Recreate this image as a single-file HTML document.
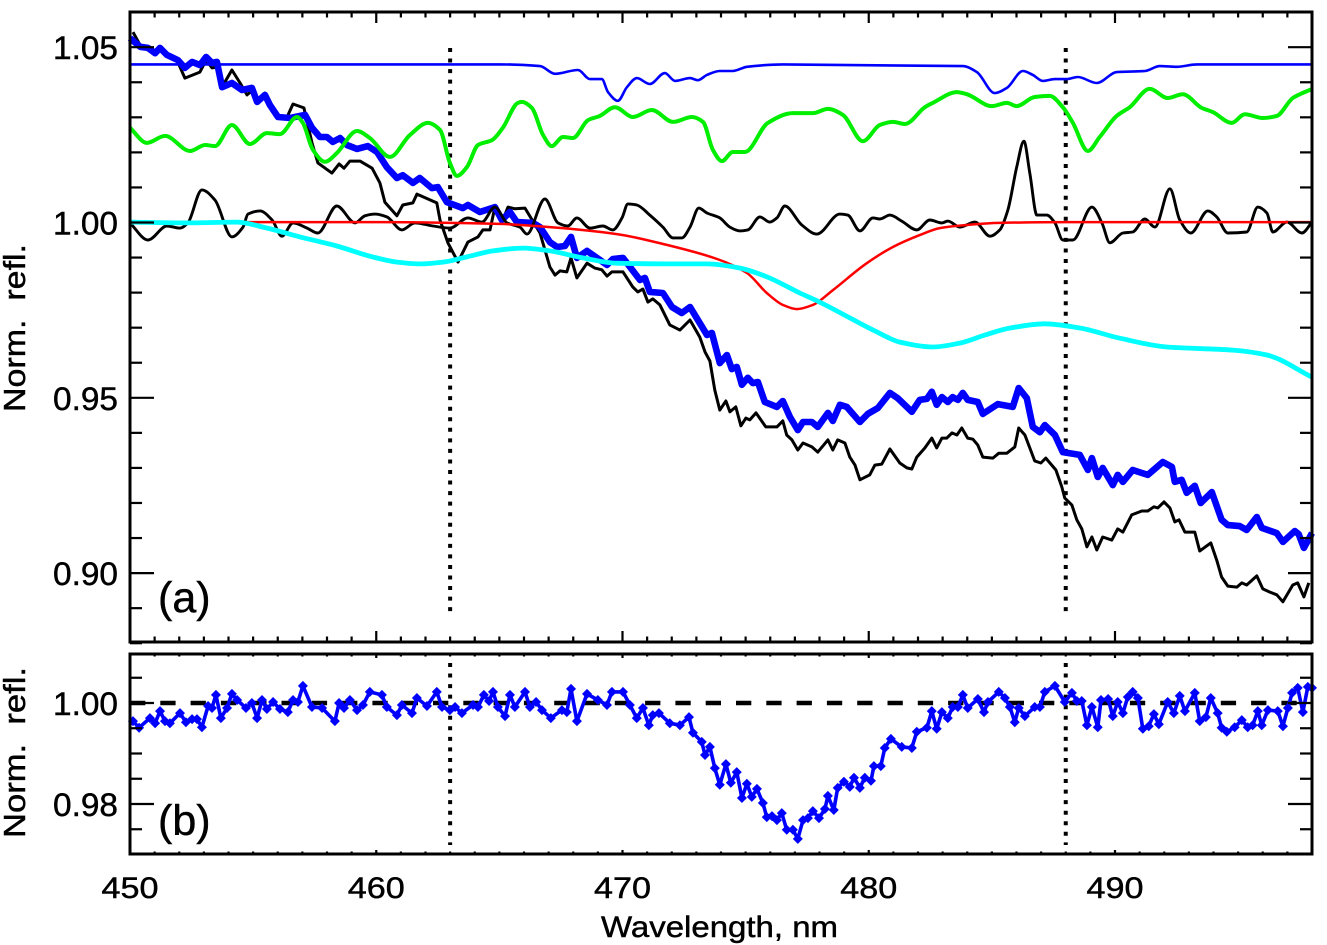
<!DOCTYPE html>
<html lang="en">
<head>
<meta charset="utf-8">
<title>Normalized reflectance spectra</title>
<style>
html,body{margin:0;padding:0;background:#fff;width:1327px;height:945px;overflow:hidden}
svg{display:block}
text{font-family:"Liberation Sans",sans-serif;fill:#000;stroke:#000;stroke-width:0.45px}
</style>
</head>
<body>
<svg id="chart" width="1327" height="945" viewBox="0 0 1327 945" xmlns="http://www.w3.org/2000/svg">
  <rect x="0" y="0" width="1327" height="945" fill="#fff"/>
  <g id="top-marks"></g>
  <g id="bottom-marks"></g>
  <g id="ticks"></g>
  <rect x="130" y="12" width="1182" height="630" fill="none" stroke="#000" stroke-width="3"/>
  <rect x="130" y="654" width="1182" height="200" fill="none" stroke="#000" stroke-width="3"/>
  <g id="labels"></g>
  <text x="158" y="612" font-size="43">(a)</text>
  <text x="158" y="835" font-size="43">(b)</text>
  <text x="601" y="937" font-size="30" textLength="237" lengthAdjust="spacingAndGlyphs">Wavelength, nm</text>
  <text transform="translate(25,412) rotate(-90)" x="0" y="0" font-size="31" textLength="168" lengthAdjust="spacingAndGlyphs" xml:space="preserve">Norm.  refl.</text>
  <text transform="translate(25,838) rotate(-90)" x="0" y="0" font-size="31" textLength="171" lengthAdjust="spacingAndGlyphs" xml:space="preserve">Norm.  refl.</text>
</svg>
<script>
// Feature wavelengths (nm)
const markerWavelengths = [463, 488];

// Tick values and labels
const xMajorTicks = [450, 460, 470, 480, 490];
const xTickLabels = ['450', '460', '470', '480', '490'];
const topMajorTicks = [0.90, 0.95, 1.00, 1.05];
const topTickLabels = ['0.90', '0.95', '1.00', '1.05'];
const bottomMajorTicks = [0.98, 1.00];
const bottomTickLabels = ['0.98', '1.00'];

// Upper black spectrum (with-feature reference)
const blackSpecWl = [450.12,450.41,450.93,451.22,451.91,452.23,452.84,453.09,453.33,453.53,453.78,454.14,454.47,454.75,454.99,455.20,455.48,455.97,456.38,456.62,457.06,457.39,457.63,458.20,458.49,458.69,458.93,459.34,459.83,460.15,460.35,460.84,461.08,461.49,461.65,462.46,462.59,462.91,463.32,463.72,464.13,464.33,464.62,464.82,465.14,465.35,465.63,466.04,466.65,467.05,467.26,467.46,467.74,467.91,468.15,468.56,468.88,469.16,469.37,469.57,470.02,470.42,470.62,470.83,471.03,471.23,471.52,471.92,472.33,472.74,473.14,473.35,473.55,473.75,473.95,474.20,474.36,474.60,474.81,475.01,475.17,475.42,475.82,476.27,476.51,476.67,476.88,477.12,477.33,477.69,477.93,478.34,478.54,478.74,479.03,479.23,479.44,479.64,480.04,480.25,480.53,480.86,481.26,481.55,481.75,481.95,482.28,482.56,482.76,482.97,483.17,483.38,483.58,483.78,484.02,484.23,484.43,484.63,485.04,485.28,485.61,485.93,486.09,486.34,486.74,486.99,487.19,487.60,487.84,487.96,488.25,488.45,488.65,488.86,489.06,489.26,489.50,489.87,490.11,490.32,490.68,491.09,491.33,491.58,491.74,491.99,492.23,492.43,492.60,492.84,493.24,493.44,493.89,494.13,494.33,494.58,494.95,495.15,495.35,495.76,496.00,496.28,496.57,496.82,497.22,497.42,497.67,497.87];
const blackSpecVal = [1.0543,1.0506,1.0483,1.0492,1.0463,1.0412,1.0429,1.0463,1.0441,1.0443,1.0392,1.0435,1.0398,1.0364,1.0378,1.0341,1.0369,1.0301,1.0301,1.0338,1.0327,1.0227,1.0170,1.0141,1.0167,1.0155,1.0175,1.0175,1.0155,1.0113,1.0058,1.0019,1.0050,1.0056,1.0081,1.0056,1.0007,0.9942,0.9887,0.9944,0.9959,0.9979,0.9979,1.0044,1.0007,1.0044,1.0039,1.0041,0.9970,0.9873,0.9850,0.9862,0.9859,0.9899,0.9842,0.9884,0.9870,0.9865,0.9847,0.9859,0.9859,0.9816,0.9802,0.9810,0.9773,0.9782,0.9765,0.9708,0.9693,0.9722,0.9673,0.9631,0.9605,0.9522,0.9465,0.9491,0.9460,0.9474,0.9420,0.9442,0.9437,0.9457,0.9417,0.9417,0.9434,0.9394,0.9380,0.9351,0.9371,0.9360,0.9345,0.9380,0.9351,0.9380,0.9371,0.9331,0.9308,0.9266,0.9280,0.9308,0.9311,0.9354,0.9314,0.9300,0.9297,0.9331,0.9357,0.9385,0.9357,0.9385,0.9385,0.9400,0.9394,0.9414,0.9385,0.9382,0.9365,0.9331,0.9328,0.9342,0.9342,0.9360,0.9414,0.9394,0.9320,0.9314,0.9328,0.9294,0.9246,0.9214,0.9194,0.9152,0.9126,0.9075,0.9103,0.9066,0.9103,0.9094,0.9126,0.9117,0.9166,0.9177,0.9177,0.9189,0.9186,0.9203,0.9186,0.9146,0.9152,0.9117,0.9117,0.9063,0.9086,0.9037,0.8989,0.8963,0.8960,0.8972,0.8966,0.8992,0.8955,0.8946,0.8938,0.8918,0.8966,0.8972,0.8932,0.8972];

// Thick blue spectrum
const blueSpecWl = [450.00,450.41,450.73,451.02,451.22,451.50,451.95,452.23,452.52,452.84,453.09,453.33,453.53,453.74,454.14,454.55,454.95,455.16,455.48,455.68,456.01,456.50,457.11,457.39,457.71,458.00,458.24,458.53,458.81,459.22,459.66,460.03,460.43,460.84,461.08,461.49,461.77,462.26,462.50,462.87,463.52,463.72,464.21,464.82,465.10,465.43,465.71,466.36,466.65,467.05,467.34,467.66,467.91,468.15,468.56,469.37,469.61,470.02,470.71,470.91,471.11,471.64,472.01,472.41,472.74,473.14,473.43,473.63,473.95,474.24,474.44,474.64,474.85,475.09,475.29,475.50,475.78,476.27,476.51,476.80,477.12,477.33,477.69,477.93,478.34,478.54,478.83,479.11,479.64,479.96,480.37,480.86,481.18,481.75,482.07,482.36,482.56,482.76,482.97,483.21,483.41,483.62,483.82,484.02,484.43,484.63,485.24,485.85,486.09,486.42,486.66,486.95,487.15,487.56,487.88,488.57,488.90,489.06,489.30,489.50,489.91,490.11,490.32,490.72,491.33,491.94,492.31,492.43,492.71,492.91,493.24,493.48,493.93,494.33,494.58,495.07,495.35,495.76,495.96,496.57,496.82,497.30,497.46,497.67,498.00];
const blueSpecVal = [1.0526,1.0501,1.0498,1.0483,1.0498,1.0478,1.0463,1.0441,1.0458,1.0449,1.0472,1.0455,1.0458,1.0386,1.0398,1.0378,1.0384,1.0344,1.0364,1.0335,1.0301,1.0298,1.0307,1.0270,1.0244,1.0244,1.0230,1.0241,1.0221,1.0210,1.0218,1.0201,1.0158,1.0127,1.0135,1.0113,1.0127,1.0098,1.0101,1.0058,1.0041,1.0050,1.0030,1.0044,1.0007,1.0030,1.0001,0.9999,0.9987,0.9944,0.9930,0.9933,0.9959,0.9899,0.9919,0.9879,0.9896,0.9899,0.9836,0.9842,0.9802,0.9799,0.9759,0.9742,0.9759,0.9713,0.9679,0.9685,0.9599,0.9622,0.9582,0.9588,0.9537,0.9557,0.9542,0.9545,0.9488,0.9474,0.9491,0.9445,0.9408,0.9431,0.9431,0.9417,0.9457,0.9434,0.9480,0.9474,0.9431,0.9454,0.9471,0.9514,0.9499,0.9460,0.9494,0.9497,0.9517,0.9480,0.9502,0.9488,0.9502,0.9494,0.9514,0.9494,0.9488,0.9454,0.9482,0.9474,0.9528,0.9499,0.9417,0.9402,0.9422,0.9394,0.9345,0.9337,0.9294,0.9328,0.9274,0.9300,0.9251,0.9280,0.9260,0.9294,0.9280,0.9317,0.9303,0.9260,0.9266,0.9229,0.9249,0.9200,0.9231,0.9152,0.9137,0.9134,0.9123,0.9160,0.9129,0.9114,0.9089,0.9120,0.9111,0.9072,0.9114];

// Thin blue line (top)
const thinBlueWl = [450,465.02,466.65,467.26,468.19,468.68,469.16,469.41,469.81,470.18,470.58,471.11,471.72,472.13,472.74,473.06,473.43,473.95,474.48,475.05,476.51,483.82,484.39,485.12,485.61,486.26,486.66,487.07,487.56,488.04,488.49,489.26,490.07,491.21,491.82,492.51,493.32,498];
const thinBlueVal = [1.0451,1.0451,1.0446,1.0424,1.0435,1.0409,1.0409,1.0372,1.0347,1.0386,1.0412,1.0395,1.0426,1.0404,1.0412,1.0406,1.0421,1.0432,1.0432,1.0444,1.0451,1.0446,1.0429,1.0369,1.0384,1.0432,1.0421,1.0404,1.0409,1.0409,1.0415,1.0398,1.0429,1.0432,1.0446,1.0444,1.0451,1.0451];

// Green line
const greenWl = [450.00,450.69,451.42,452.44,453.05,453.45,454.14,454.87,455.56,456.09,456.78,457.02,457.43,457.92,458.40,459.22,459.74,460.56,461.37,462.10,462.59,462.99,463.28,463.68,464.13,464.70,465.14,465.75,465.92,466.32,466.77,467.13,467.58,467.99,468.60,469.08,469.69,470.42,471.19,472.05,472.82,473.27,473.67,474.04,474.48,474.97,475.90,476.92,477.73,478.34,478.95,479.76,480.45,480.98,481.47,482.28,482.60,483.58,483.98,485.00,485.61,486.01,486.74,487.35,487.88,488.29,488.90,489.38,490.07,490.60,491.41,492.14,492.75,493.52,493.97,494.74,495.27,496.00,496.57,497.22,498.00];
const greenVal = [1.0270,1.0227,1.0247,1.0204,1.0221,1.0218,1.0278,1.0224,1.0255,1.0252,1.0301,1.0284,1.0207,1.0173,1.0198,1.0261,1.0241,1.0187,1.0250,1.0284,1.0264,1.0170,1.0133,1.0158,1.0221,1.0235,1.0270,1.0341,1.0344,1.0327,1.0250,1.0218,1.0244,1.0241,1.0292,1.0304,1.0329,1.0301,1.0321,1.0287,1.0301,1.0287,1.0207,1.0175,1.0201,1.0201,1.0284,1.0312,1.0312,1.0324,1.0307,1.0232,1.0278,1.0287,1.0281,1.0329,1.0341,1.0372,1.0366,1.0332,1.0341,1.0332,1.0358,1.0361,1.0329,1.0284,1.0204,1.0244,1.0304,1.0329,1.0381,1.0355,1.0366,1.0327,1.0315,1.0284,1.0309,1.0298,1.0304,1.0355,1.0381];

// Black line around unity
const blackFlatWl = [450.00,450.73,451.50,452.03,452.35,452.92,453.45,454.14,454.59,454.79,455.28,455.77,456.17,456.62,457.19,457.63,458.40,459.14,459.54,459.95,460.43,461.04,461.57,462.30,462.99,463.72,464.29,464.82,465.31,465.83,466.12,466.85,467.38,467.78,468.15,468.68,469.20,469.61,469.98,470.22,470.58,471.11,471.64,472.05,472.41,472.74,473.10,473.43,473.95,474.36,474.77,475.09,475.58,475.98,476.27,476.59,477.28,477.89,478.83,479.15,479.64,480.17,480.45,480.86,481.34,481.95,482.48,482.97,483.21,483.70,484.31,484.92,485.32,485.65,486.01,486.30,486.54,486.83,487.23,487.56,487.88,488.29,489.06,489.47,489.79,490.32,490.72,491.21,491.62,492.23,492.63,493.08,493.77,494.13,494.58,495.35,495.80,496.17,496.41,496.98,497.59,498.00];
const blackFlatVal = [0.9999,0.9950,0.9990,0.9984,0.9999,1.0093,1.0064,0.9959,0.9987,1.0024,1.0033,1.0007,0.9961,0.9999,0.9984,0.9970,1.0047,0.9999,1.0019,1.0024,1.0016,0.9979,0.9999,0.9990,0.9984,1.0013,1.0001,1.0044,0.9999,0.9987,0.9967,1.0067,0.9999,0.9990,1.0013,0.9984,0.9990,0.9979,1.0013,1.0053,1.0050,1.0021,0.9987,0.9956,0.9956,0.9987,1.0041,1.0027,1.0013,0.9987,0.9976,0.9979,1.0016,1.0001,1.0013,1.0047,0.9993,0.9967,1.0024,1.0021,0.9976,1.0013,1.0010,1.0021,1.0004,0.9979,1.0007,0.9999,1.0004,0.9987,1.0001,0.9961,0.9979,1.0036,1.0158,1.0232,1.0141,1.0021,1.0021,0.9999,0.9950,0.9950,1.0044,0.9999,0.9942,0.9970,0.9973,1.0010,0.9987,1.0096,1.0007,0.9970,1.0033,1.0016,0.9970,0.9973,1.0044,1.0027,0.9973,1.0001,0.9970,1.0001];

// Red line
const redWl = [450,455,460,465.02,467.05,469.77,471.80,473.84,475.05,475.86,476.51,477.08,477.73,478.54,479.92,480.98,482.07,482.88,483.98,485.32,488.04,498];
const redVal = [1.0001,1.0001,1.0001,0.9996,0.9987,0.9967,0.9936,0.9896,0.9856,0.9799,0.9765,0.9753,0.9765,0.9807,0.9884,0.9930,0.9964,0.9984,0.9993,0.9999,1.0001,1.0001];

// Cyan line
const cyanWl = [450,452.31,454.35,455.40,456.90,458.40,459.74,460.84,461.77,462.71,463.68,464.74,465.96,467.05,468.39,469.77,471.80,473.43,474.77,475.86,477.20,478.01,479.23,480.33,481.26,482.60,483.70,484.72,485.74,487.15,488.57,490.19,492.10,494.78,496.17,498.00];
const cyanVal = [1.0001,0.9999,1.0001,0.9987,0.9959,0.9933,0.9904,0.9887,0.9882,0.9887,0.9902,0.9919,0.9927,0.9919,0.9899,0.9884,0.9882,0.9882,0.9870,0.9845,0.9799,0.9773,0.9728,0.9688,0.9659,0.9645,0.9656,0.9679,0.9699,0.9711,0.9699,0.9670,0.9645,0.9636,0.9622,0.9559];

// Panel (b) ratio spectrum
const ratioWl = [450.12,450.37,450.81,451.02,451.22,451.42,451.62,452.03,452.27,452.52,452.72,452.92,453.17,453.33,453.49,453.69,453.94,454.14,454.35,454.71,454.95,455.16,455.36,455.56,455.81,456.09,456.41,456.62,456.82,457.02,457.39,457.80,458.32,458.49,458.69,458.93,459.22,459.46,459.74,460.23,460.43,460.84,461.04,461.45,461.65,462.06,462.46,462.67,462.99,463.20,463.48,463.93,464.13,464.37,464.58,464.74,464.94,465.23,465.43,465.63,466.04,466.24,466.49,466.73,467.09,467.54,467.74,467.91,468.15,468.56,469.00,469.37,469.57,470.02,470.30,470.58,470.83,471.07,471.23,471.48,471.92,472.33,472.70,472.86,473.22,473.35,473.55,473.75,473.95,474.20,474.40,474.64,474.85,475.05,475.25,475.46,475.70,475.86,476.07,476.27,476.47,476.67,476.92,477.12,477.33,477.53,477.73,477.98,478.22,478.34,478.58,478.74,478.99,479.23,479.40,479.64,479.84,480.09,480.21,480.49,480.65,480.90,481.34,481.75,481.95,482.36,482.56,482.76,482.97,483.21,483.41,483.62,483.82,484.02,484.43,484.68,484.84,485.28,485.53,485.73,485.93,486.09,486.34,486.74,486.95,487.15,487.56,487.96,488.25,488.45,488.65,488.86,489.06,489.30,489.43,489.72,489.91,490.11,490.32,490.52,490.72,490.93,491.13,491.37,491.58,491.78,492.14,492.39,492.63,492.84,493.24,493.44,493.69,493.89,494.17,494.33,494.54,494.86,495.15,495.39,495.59,495.80,495.96,496.21,496.61,496.82,497.02,497.19,497.42,497.63,497.83,498.00];
const ratioVal = [0.9964,0.9951,0.9970,0.9960,0.9984,0.9964,0.9960,0.9980,0.9962,0.9968,0.9968,0.9952,0.9994,0.9990,1.0016,0.9970,0.9990,1.0018,1.0006,0.9990,1.0000,0.9970,1.0006,0.9988,1.0002,0.9988,0.9982,1.0006,1.0002,1.0034,0.9992,0.9990,0.9964,1.0000,0.9990,1.0006,0.9986,0.9996,1.0022,1.0016,0.9992,0.9976,0.9996,0.9980,1.0010,0.9994,1.0022,0.9992,0.9986,0.9992,0.9980,0.9996,0.9992,1.0016,1.0004,1.0022,0.9992,0.9974,1.0016,0.9992,1.0022,0.9992,1.0002,0.9986,0.9970,0.9986,0.9982,1.0028,0.9964,1.0018,1.0006,0.9996,1.0022,1.0022,0.9996,0.9970,0.9990,0.9956,0.9976,0.9980,0.9960,0.9956,0.9972,0.9941,0.9923,0.9897,0.9913,0.9871,0.9838,0.9879,0.9842,0.9863,0.9812,0.9840,0.9814,0.9830,0.9802,0.9774,0.9776,0.9768,0.9782,0.9749,0.9749,0.9731,0.9768,0.9772,0.9786,0.9772,0.9790,0.9816,0.9788,0.9832,0.9844,0.9834,0.9852,0.9832,0.9852,0.9846,0.9875,0.9875,0.9911,0.9929,0.9913,0.9911,0.9943,0.9951,0.9984,0.9949,0.9982,0.9970,0.9992,0.9992,1.0016,0.9990,1.0008,0.9982,1.0002,1.0022,1.0010,0.9992,0.9962,0.9990,0.9974,0.9992,0.9992,1.0022,1.0034,1.0002,1.0020,1.0004,1.0004,0.9956,0.9992,0.9952,1.0006,1.0008,0.9974,1.0002,0.9980,1.0012,1.0022,1.0010,0.9949,0.9954,0.9978,0.9958,1.0002,0.9980,1.0014,0.9984,1.0020,0.9964,0.9972,1.0010,0.9980,0.9951,0.9943,0.9952,0.9966,0.9952,0.9956,0.9984,0.9956,0.9986,0.9984,0.9954,0.9990,1.0020,1.0030,0.9982,1.0032,1.0030];

// Reference level in panel (b)
const ratioReference = 1.00;

// Axis functions
function xAxis(w) { return 130 + (w - 450) * (1182 / 48); }
function yTop(v) { return 222.5 + (1 - v) * 3506; }
function yBottom(v) { return 703 + (1 - v) * 5050; }

const NS = 'http://www.w3.org/2000/svg';
const topLayer = document.getElementById('top-marks');
const bottomLayer = document.getElementById('bottom-marks');
const tickLayer = document.getElementById('ticks');
const labelLayer = document.getElementById('labels');

function pathFrom(wl, val, yFn) {
  return wl.map(function (w, i) {
    return (i ? 'L' : 'M') + xAxis(w).toFixed(1) + ' ' + yFn(val[i]).toFixed(1);
  }).join('');
}

// Monotone cubic path through the data points (extrema stay on vertices)
function smoothPathFrom(wl, val, yFn) {
  const xs = wl.map(xAxis);
  const ys = val.map(yFn);
  const n = xs.length;
  const sec = [];
  for (let i = 0; i < n - 1; i++) sec.push((ys[i + 1] - ys[i]) / (xs[i + 1] - xs[i]));
  const m = [sec[0]];
  for (let i = 1; i < n - 1; i++) {
    m.push(sec[i - 1] * sec[i] <= 0 ? 0 : 2 * sec[i - 1] * sec[i] / (sec[i - 1] + sec[i]));
  }
  m.push(sec[n - 2]);
  let d = 'M' + xs[0].toFixed(1) + ' ' + ys[0].toFixed(1);
  for (let i = 0; i < n - 1; i++) {
    const h = (xs[i + 1] - xs[i]) / 3;
    d += 'C' + (xs[i] + h).toFixed(1) + ' ' + (ys[i] + m[i] * h).toFixed(1) + ' ' +
      (xs[i + 1] - h).toFixed(1) + ' ' + (ys[i + 1] - m[i + 1] * h).toFixed(1) + ' ' +
      xs[i + 1].toFixed(1) + ' ' + ys[i + 1].toFixed(1);
  }
  return d;
}

function drawLine(layer, name, d, color, width) {
  const el = document.createElementNS(NS, 'path');
  
  
  el.setAttribute('d', d);
  el.setAttribute('fill', 'none');
  el.setAttribute('stroke', color);
  el.setAttribute('stroke-width', width);
  el.setAttribute('stroke-linejoin', 'round');
  layer.appendChild(el);
  return el;
}

function drawSegment(layer, name, x1, y1, x2, y2, width, dash) {
  const el = document.createElementNS(NS, 'line');
  
  
  el.setAttribute('x1', x1);
  el.setAttribute('y1', y1);
  el.setAttribute('x2', x2);
  el.setAttribute('y2', y2);
  el.setAttribute('stroke', '#000');
  el.setAttribute('stroke-width', width);
  if (dash) el.setAttribute('stroke-dasharray', dash);
  layer.appendChild(el);
  return el;
}

function drawLabel(name, x, y, size, length, anchor, str) {
  const el = document.createElementNS(NS, 'text');
  
  
  el.setAttribute('x', x);
  el.setAttribute('y', y);
  el.setAttribute('font-size', size);
  el.setAttribute('text-anchor', anchor);
  el.setAttribute('textLength', length);
  el.setAttribute('lengthAdjust', 'spacingAndGlyphs');
  el.textContent = str;
  labelLayer.appendChild(el);
  return el;
}

// Dotted feature markers
markerWavelengths.forEach(function (w) {
  const x = xAxis(w);
  drawSegment(topLayer, 'feature-marker-top', x, 48, x, 613, 4, '4 6.55');
  drawSegment(bottomLayer, 'feature-marker-bottom', x, 663, x, 845, 4, '4 6.55');
});

// Panel (a) series
drawLine(topLayer, 'black-spectrum', pathFrom(blackSpecWl, blackSpecVal, yTop), '#000', 3);
drawLine(topLayer, 'blue-spectrum-thick', pathFrom(blueSpecWl, blueSpecVal, yTop), '#0000ff', 6.6);
drawLine(topLayer, 'black-flat-line', smoothPathFrom(blackFlatWl, blackFlatVal, yTop), '#000', 2.9);
drawLine(topLayer, 'blue-thin-line', smoothPathFrom(thinBlueWl, thinBlueVal, yTop), '#0000ff', 2.6);
drawLine(topLayer, 'green-line', smoothPathFrom(greenWl, greenVal, yTop), '#00ee00', 4);
drawLine(topLayer, 'red-line', smoothPathFrom(redWl, redVal, yTop), '#ff0000', 2.5);
drawLine(topLayer, 'cyan-line', smoothPathFrom(cyanWl, cyanVal, yTop), '#00ffff', 4.8);

// Panel (b) series
const refY = yBottom(ratioReference);
drawSegment(bottomLayer, 'reference-dashed-line', 130, refY, 1312, refY, 4.4, '15.3 15');
drawLine(bottomLayer, 'ratio-line', pathFrom(ratioWl, ratioVal, yBottom), '#0000ff', 3.6);
ratioWl.forEach(function (w, i) {
  const x = xAxis(w);
  const y = yBottom(ratioVal[i]);
  const r = 5;
  const el = document.createElementNS(NS, 'polygon');
  
  
  el.setAttribute('points', [x, y - r, x + r, y, x, y + r, x - r, y].join(' '));
  el.setAttribute('fill', '#0000ff');
  bottomLayer.appendChild(el);
});

// X ticks every nanometre on all four horizontal axes
for (let w = 451; w < 498; w++) {
  const x = xAxis(w);
  const major = xMajorTicks.indexOf(w) >= 0;
  drawSegment(tickLayer, 'x-tick-panel-a-top', x, 12, x, 12 + (major ? 11 : 5.5), 2.2);
  drawSegment(tickLayer, 'x-tick-panel-a-bottom', x, 642, x, 642 - (major ? 11 : 5.5), 2.2);
  drawSegment(tickLayer, 'x-tick-panel-b-top', x, 654, x, 654 + (major ? 4 : 2.5), 2.2);
  drawSegment(tickLayer, 'x-tick-panel-b-bottom', x, 854, x, 854 - (major ? 4 : 2.5), 2.2);
}

// Panel (a) Y ticks every 0.01
for (let k = 88; k <= 106; k++) {
  const v = k / 100;
  const y = yTop(v);
  const major = k % 5 === 0;
  drawSegment(tickLayer, 'y-tick-panel-a-left', 130, y, 130 + (major ? 24 : 12), y, 2.2);
  drawSegment(tickLayer, 'y-tick-panel-a-right', 1312, y, 1312 - (major ? 24 : 12), y, 2.2);
}

// Panel (b) Y ticks every 0.005
for (let k = 195; k <= 201; k++) {
  const v = k / 200;
  const y = yBottom(v);
  const major = k % 4 === 0;
  drawSegment(tickLayer, 'y-tick-panel-b-left', 130, y, 130 + (major ? 24 : 12), y, 2.2);
  drawSegment(tickLayer, 'y-tick-panel-b-right', 1312, y, 1312 - (major ? 24 : 12), y, 2.2);
}

// Tick labels
xMajorTicks.forEach(function (w, i) {
  drawLabel('x-tick-label', xAxis(w), 898, 30, 57, 'middle', xTickLabels[i]);
});
topMajorTicks.forEach(function (v, i) {
  drawLabel('panel-a-y-tick-label', 118, yTop(v) + 12, 32, 65, 'end', topTickLabels[i]);
});
bottomMajorTicks.forEach(function (v, i) {
  drawLabel('panel-b-y-tick-label', 118, yBottom(v) + 12, 32, 65, 'end', bottomTickLabels[i]);
});
</script>
</body>
</html>
